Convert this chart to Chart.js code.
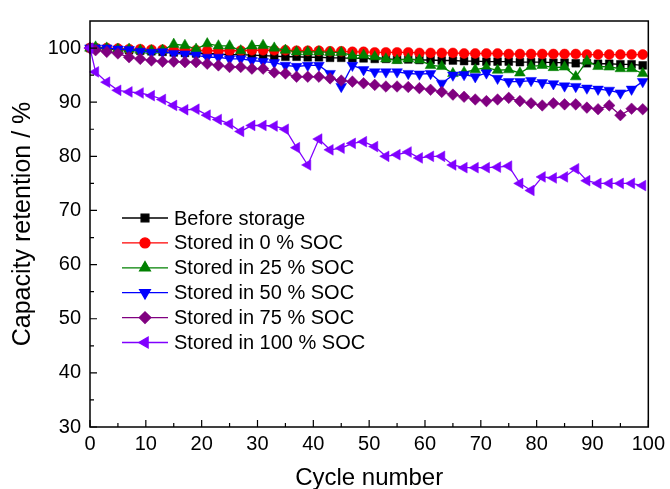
<!DOCTYPE html>
<html><head><meta charset="utf-8">
<script src="https://cdn.jsdelivr.net/npm/chart.js@4/dist/chart.umd.min.js"></script>
<style>html,body{margin:0;padding:0;background:#fff;}</style>
</head><body>
<canvas id="c" width="670" height="489"></canvas>
<script>
const cycles = [0,1,3,5,7,9,11,13,15,17,19,21,23,25,27,29,31,33,35,37,39,41,43,45,47,49,51,53,55,57,59,61,63,65,67,69,71,73,75,77,79,81,83,85,87,89,91,93,95,97,99];

const beforeStorage = [100,100,99.8,99.7,99.6,99.5,99.4,99.3,99.2,99.1,99.0,99.0,98.9,98.8,98.8,98.7,98.6,98.5,98.4,98.4,98.3,98.3,98.2,98.2,98.1,98.1,98.0,98.0,97.9,97.9,97.8,97.8,97.7,97.7,97.6,97.6,97.5,97.5,97.5,97.4,97.4,97.4,97.3,97.3,97.2,97.2,97.1,97.1,97.0,97.0,96.8];
const soc0 = [100,100,100,99.9,99.8,99.8,99.7,99.7,99.6,99.6,99.6,99.5,99.5,99.5,99.5,99.6,99.6,99.6,99.6,99.5,99.5,99.5,99.4,99.4,99.3,99.3,99.2,99.2,99.2,99.2,99.1,99.1,99.1,99.1,99.0,99.0,99.0,99.0,98.9,98.9,98.9,98.9,98.9,98.9,98.9,98.8,98.8,98.8,98.8,98.8,98.8];
const soc25 = [100,100.2,100.0,99.8,99.8,99.6,99.5,99.6,100.7,100.5,99.8,100.8,100.4,100.4,99.5,100.4,100.5,100.0,99.6,99.3,99.3,99.3,99.2,99.2,98.6,98.7,98.4,98.0,97.7,98.0,97.8,96.8,96.6,95.3,95.5,96.0,96.4,95.9,96.0,95.4,96.6,96.8,96.4,96.5,94.7,97.6,96.6,96.5,96.2,96.2,95.3];
const soc50 = [100,100,100,99.8,99.7,99.4,99.2,99.3,99.0,98.9,98.7,98.3,98.3,98.0,98.0,97.7,97.5,97.3,96.8,96.6,96.8,96.8,95.3,92.9,96.8,96.0,95.6,95.6,95.6,95.3,95.2,95.3,93.5,95.0,95.1,94.7,95.4,94.4,93.8,93.8,94.0,93.6,93.4,93.0,92.9,92.6,92.4,92.2,91.7,92.4,93.8];
const soc75 = [100,99.6,99.3,99.0,98.3,98.0,97.7,97.5,97.5,97.4,97.4,97.1,96.8,96.5,96.5,96.2,96.2,95.5,95.3,94.7,94.7,94.7,94.4,94.0,93.8,93.5,93.2,92.9,92.9,92.8,92.6,92.3,91.9,91.4,91.0,90.5,90.2,90.5,90.8,90.2,89.8,89.4,89.8,89.6,89.6,89.0,88.7,89.4,87.6,88.8,88.7];
const soc100 = [100,95.6,93.7,92.2,91.9,91.7,91.2,90.5,89.4,88.6,88.7,87.6,86.8,86.0,84.6,85.7,85.7,85.6,85.0,81.6,78.4,83.2,81.2,81.5,82.4,82.7,81.8,80.0,80.3,80.8,79.7,80.0,80.0,78.4,77.9,77.9,77.9,78.0,78.2,75.0,73.7,76.2,76.0,76.2,77.7,75.5,75.0,75.0,75.0,75.0,74.6];

const seriesLabels = ['Before storage','Stored in 0 % SOC','Stored in 25 % SOC','Stored in 50 % SOC','Stored in 75 % SOC','Stored in 100 % SOC'];
const seriesValues = [beforeStorage, soc0, soc25, soc50, soc75, soc100];
const xTickValues = [0,10,20,30,40,50,60,70,80,90,100];
const yTickValues = [30,40,50,60,70,80,90,100];

const colors = ['#000000','#FF0000','#008000','#0000FF','#800080','#8000FF'];
const styles = [
  {pointStyle:'rect', radius:5.5, rotation:0},
  {pointStyle:'circle', radius:5, rotation:0},
  {pointStyle:'triangle', radius:6.2, rotation:0},
  {pointStyle:'triangle', radius:6.2, rotation:180},
  {pointStyle:'rectRot', radius:5.8, rotation:0},
  {pointStyle:'triangle', radius:6.2, rotation:-90}
];
const FONT = 'Liberation Sans, Arial, sans-serif';

const datasets = seriesValues.map((vals,i)=>({
  label: seriesLabels[i],
  data: cycles.map((c,k)=>({x:c, y:vals[k]})),
  borderColor: colors[i],
  backgroundColor: colors[i],
  pointBackgroundColor: colors[i],
  pointBorderColor: colors[i],
  pointBorderWidth: 0.5,
  borderWidth: 1.3,
  pointStyle: styles[i].pointStyle,
  pointRadius: styles[i].radius,
  pointRotation: styles[i].rotation,
  tension: 0,
  clip: false,
  order: -i
}));

const framePlugin = {
  id:'frame',
  afterDraw(chart){
    const {ctx, chartArea:a, scales:{x,y}} = chart;
    ctx.save();
    ctx.strokeStyle = '#000';
    ctx.lineWidth = 1.5;
    ctx.strokeRect(a.left, a.top, a.right-a.left, a.bottom-a.top);
    ctx.lineWidth = 1.2;
    ctx.beginPath();
    x.ticks.forEach(t=>{
      const px = x.getPixelForValue(t.value);
      const len = xTickValues.includes(t.value) ? 7 : 4;
      ctx.moveTo(px, a.bottom); ctx.lineTo(px, a.bottom-len);
    });
    y.ticks.forEach(t=>{
      if (t.value > 100) return;
      const py = y.getPixelForValue(t.value);
      const len = yTickValues.includes(t.value) ? 7 : 4;
      ctx.moveTo(a.left, py); ctx.lineTo(a.left+len, py);
    });
    ctx.stroke();
    ctx.restore();
  }
};

const legendPlugin = {
  id:'innerLegend',
  afterDraw(chart){
    const ctx = chart.ctx;
    const x0 = 122, x1 = 168, xm = 145, xt = 174, y0 = 218, dy = 24.9;
    ctx.save();
    chart.data.datasets.forEach((ds,i)=>{
      const yy = y0 + i*dy;
      ctx.strokeStyle = ds.borderColor; ctx.lineWidth = 1.3;
      ctx.beginPath(); ctx.moveTo(x0,yy); ctx.lineTo(x1,yy); ctx.stroke();
      ctx.fillStyle = ds.backgroundColor; ctx.strokeStyle = ds.borderColor;
      if (Chart.helpers && Chart.helpers.drawPoint) {
        Chart.helpers.drawPoint(ctx, {pointStyle: ds.pointStyle, rotation: ds.pointRotation, radius: ds.pointRadius, borderWidth: 0.5}, xm, yy);
      }
      ctx.fillStyle = '#000';
      ctx.font = '20px ' + FONT;
      ctx.textBaseline = 'middle';
      ctx.textAlign = 'left';
      ctx.fillText(ds.label, xt, yy+1);
    });
    ctx.restore();
  }
};

Chart.defaults.color = '#000';
new Chart(document.getElementById('c'), {
  type:'line',
  data:{datasets},
  options:{
    responsive:false,
    devicePixelRatio:1,
    animation:false,
    layout:{padding:{top:10,right:16,left:0,bottom:0}},
    plugins:{legend:{display:false}, tooltip:{enabled:false}},
    scales:{
      x:{
        type:'linear', min:0, max:100,
        grid:{display:false, drawTicks:false},
        border:{display:false},
        ticks:{stepSize:5, autoSkip:false, maxRotation:0, padding:5, color:'#000',
          font:{family:FONT, size:20},
          callback:v=> xTickValues.includes(v) ? String(v) : ''},
        title:{display:true, text:'Cycle number', color:'#000', font:{family:FONT, size:24}, padding:{top:0,bottom:-4}},
        afterFit(s){ s.height = 62; }
      },
      y:{
        type:'linear', min:30, max:105,
        grid:{display:false, drawTicks:false},
        border:{display:false},
        ticks:{stepSize:5, autoSkip:false, padding:9, color:'#000',
          font:{family:FONT, size:20},
          callback:v=> yTickValues.includes(v) ? String(v) : ''},
        title:{display:true, text:'Capacity retention / %', color:'#000', font:{family:FONT, size:25}, padding:{top:8,bottom:0}},
        afterFit(s){ s.width = 90; }
      }
    }
  },
  plugins:[framePlugin, legendPlugin]
});
</script>
</body></html>
